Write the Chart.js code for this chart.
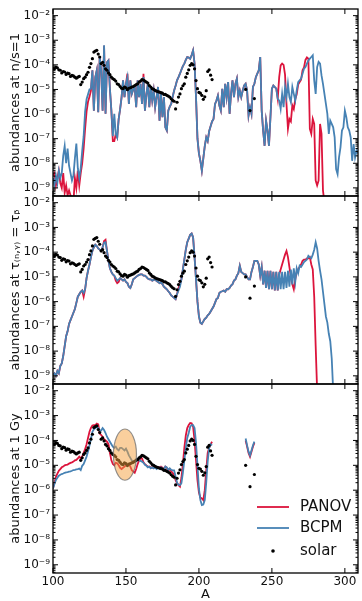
<!DOCTYPE html>
<html lang="en">
<head>
  <meta charset="UTF-8" />
  <title>r-process abundances</title>
  <script src="https://cdn.jsdelivr.net/npm/chart.js"></script>
  <style>
    body { margin: 0; background: #fff; }
    #wrap { position: relative; width: 362px; height: 601px; overflow: hidden; }
    #wrap canvas { position: absolute; left: 0; }
  </style>
</head>
<body>
<div id="wrap">
  <canvas id="ns1Chart" width="362" height="200" style="top:0px"></canvas>
  <canvas id="tauChart" width="362" height="202" style="top:187px"></canvas>
  <canvas id="gyChart" width="362" height="227" style="top:374px"></canvas>
</div>

<script>
  // ticks
  const yTickValues = [1e-9, 1e-8, 1e-7, 1e-6, 1e-5, 1e-4, 1e-3, 1e-2];
  const yTickLabels = ['10⁻⁹', '10⁻⁸', '10⁻⁷', '10⁻⁶', '10⁻⁵', '10⁻⁴', '10⁻³', '10⁻²'];
  const xTickValues = [100, 150, 200, 250, 300];
  const seriesNames = ['PANOV', 'BCPM', 'solar'];
  const panelTitles = ['abundances at n/s=1', 'abundances at τ₍ₙ,ᵧ₎ = τᵦ', 'abundances at 1 Gy'];

  // log10 abundances, one value per mass number, first entry is A = 100
  // panel 1: n/s = 1
  const ns1Panov = [
    -8.5,-8.4,-8.9,-8.6,-8.3,-8.8,-9.0,-8.4,-9.2,-8.9,
    -9.3,-9.1,-9.3,-9.5,-9.6,-8.6,-9.0,-8.3,-8.9,-8.4,
    -8.0,-7.4,-6.6,-5.9,-5.5,-5.3,-5.05,-4.22,-5.86,-4.5,
    -4.22,-5.93,-3.68,-4.22,-5.86,-3.22,-5.99,-3.9,-3.82,-4.97,
    -5.86,-7.1,-7.1,-6.81,-6.95,-6.2,-5.8,-5.31,-4.63,-5.31,
    -4.77,-4.36,-5.59,-4.63,-5.18,-5.0,-4.9,-5.72,-4.63,-5.31,
    -4.77,-5.59,-4.36,-5.86,-5.2,-4.77,-5.72,-4.9,-5.45,-5.04,
    -5.72,-5.3,-4.9,-6.27,-5.18,-6.13,-5.31,-6.54,-6.67,-5.86,
    -5.7,-5.59,-5.3,-5.04,-4.85,-4.63,-4.5,-4.36,-4.2,-4.05,
    -3.95,-3.8,-3.68,-3.7,-3.75,-3.6,-3.41,-3.95,-5.31,-7.0,
    -7.6,-7.9,-8.3,-7.8,-7.3,-6.95,-7.1,-6.7,-6.5,-6.3,
    -6.2,-5.6,-5.45,-5.25,-5.65,-5.85,-4.97,-5.72,-4.77,-5.31,
    -4.7,-5.99,-5.18,-4.63,-5.31,-4.77,-4.56,-5.31,-5.04,-5.31,
    -5.04,-4.84,-4.77,-5.04,-6.06,-5.72,-5.99,-4.9,-4.77,-4.5,
    -4.36,-4.22,-3.68,-5.86,-6.67,-7.29,-6.27,-6.67,-7.29,-6.13,
    -4.97,-4.84,-4.9,-4.97,-5.38,-4.5,-4.02,-3.95,-4.0,-4.4,
    -5.6,-6.6,-6.2,-6.3,-5.65,-5.8,-5.4,-5.2,-4.8,-4.7,
    -4.6,-4.22,-4.1,-3.8,-3.7,-3.75,-6.6,-6.8,-6.2,-6.4,
    -8.7,-8.9,-8.7,-6.4,-6.8,-9.1,-9.6
  ];
  const ns1Bcpm = [
    -8.6,-8.9,-8.5,-8.8,-8.3,-8.6,-8.4,-7.7,-7.3,-8.0,
    -7.4,-8.1,-8.4,-8.7,-8.5,-7.8,-7.2,-8.2,-8.6,-8.2,
    -7.5,-6.9,-5.9,-5.4,-5.2,-5.0,-4.97,-4.22,-5.86,-4.5,
    -4.22,-5.93,-3.68,-4.22,-5.86,-3.2,-5.99,-3.9,-3.82,-4.97,
    -5.86,-6.9,-5.99,-6.81,-6.95,-6.2,-5.8,-5.31,-4.63,-5.31,
    -4.77,-4.5,-5.59,-4.63,-5.18,-5.0,-4.9,-5.72,-4.63,-5.31,
    -4.77,-5.59,-4.5,-5.86,-5.2,-4.77,-5.72,-4.9,-5.45,-5.04,
    -5.72,-5.3,-4.9,-6.27,-5.18,-6.13,-5.31,-6.54,-6.67,-5.86,
    -5.7,-5.59,-5.3,-5.04,-4.85,-4.63,-4.5,-4.36,-4.2,-4.05,
    -3.95,-3.8,-3.68,-3.7,-3.75,-3.6,-3.41,-3.95,-5.31,-7.0,
    -7.6,-7.9,-8.3,-7.8,-7.3,-6.95,-7.1,-6.7,-6.5,-6.3,
    -6.2,-5.6,-5.45,-5.25,-5.65,-5.85,-4.97,-5.72,-4.77,-5.31,
    -4.7,-5.99,-5.18,-4.63,-5.31,-4.77,-4.56,-5.31,-5.04,-5.31,
    -5.04,-4.84,-4.77,-5.04,-6.06,-5.72,-5.99,-4.9,-4.77,-4.5,
    -4.36,-4.22,-3.68,-5.86,-6.67,-7.29,-6.27,-6.67,-7.29,-6.13,
    -4.97,-4.84,-4.9,-4.97,-5.38,-5.45,-5.79,-5.18,-5.72,-4.9,
    -5.31,-4.77,-5.31,-5.52,-4.9,-5.18,-5.45,-5.04,-4.7,-4.63,
    -4.56,-4.36,-4.16,-4.09,-3.95,-3.82,-3.75,-3.68,-3.61,-4.63,
    -5.18,-4.09,-3.88,-3.95,-4.43,-4.77,-5.18,-5.59,-5.99,-6.81,
    -6.27,-6.4,-6.54,-6.95,-8.24,-8.44,-7.76,-7.35,-6.67,-6.54,
    -5.86,-6.13,-6.54,-6.67,-6.95,-7.9,-7.22,-7.76,-7.49,-7.6
  ];

  // panel 2: tau(n,gamma) = tau(beta)
  const tauPanov = [
    -8.97,-8.9,-9.0,-8.8,-8.9,-8.6,-8.5,-8.2,-7.8,-7.4,
    -7.2,-6.9,-6.75,-6.6,-6.45,-6.3,-6.05,-5.8,-5.7,-5.6,
    -5.55,-5.8,-5.5,-5.05,-4.75,-4.5,-4.2,-3.95,-3.8,-3.7,
    -3.75,-3.85,-3.9,-3.95,-3.8,-3.55,-3.5,-3.95,-4.35,-4.65,
    -4.8,-4.9,-4.95,-5.15,-5.25,-5.2,-5.05,-5.1,-5.15,-5.1,
    -5.2,-5.25,-5.4,-5.45,-5.3,-5.1,-5.05,-5.0,-4.95,-4.92,
    -4.9,-4.9,-4.95,-4.95,-5.0,-5.07,-5.1,-5.1,-5.15,-5.12,
    -5.1,-5.17,-5.2,-5.25,-5.22,-5.3,-5.4,-5.45,-5.5,-5.58,
    -5.65,-5.75,-5.8,-5.85,-5.9,-5.7,-5.45,-5.3,-5.1,-4.7,
    -4.3,-3.9,-3.6,-3.45,-3.3,-3.25,-3.4,-4.2,-5.1,-6.0,
    -6.6,-6.85,-6.9,-6.8,-6.7,-6.65,-6.55,-6.5,-6.4,-6.3,
    -6.2,-6.05,-5.9,-5.85,-5.65,-5.6,-5.58,-5.55,-5.6,-5.5,
    -5.5,-5.45,-5.35,-5.3,-5.15,-5.1,-4.95,-4.85,-4.55,-4.8,
    -4.85,-4.9,-4.9,-5.0,-5.1,-5.1,-4.8,-4.6,-4.35,-4.35,
    -4.35,-4.5,-4.95,-4.6,-5.3,-4.75,-5.45,-4.75,-5.5,-4.75,
    -5.5,-4.8,-5.55,-4.8,-5.55,-4.9,-4.7,-4.5,-4.3,-4.1,
    -3.95,-4.2,-4.6,-5.0,-5.3,-5.5,-5.1,-4.8,-4.7,-4.6,
    -4.5,-4.35,-4.3,-4.3,-4.25,-4.25,-4.2,-4.5,-4.7,-5.8,
    -7.8,-9.6
  ];
  const tauBcpm = [
    -8.97,-8.9,-9.0,-8.8,-8.9,-8.6,-8.5,-8.2,-7.8,-7.4,
    -7.2,-6.9,-6.75,-6.6,-6.45,-6.3,-6.05,-5.8,-5.7,-5.6,
    -5.55,-5.65,-5.5,-5.05,-4.75,-4.5,-4.2,-3.95,-3.8,-3.7,
    -3.75,-3.85,-3.9,-3.95,-3.8,-3.62,-3.6,-3.95,-4.35,-4.65,
    -4.8,-4.9,-4.95,-5.05,-5.15,-5.1,-5.05,-5.1,-5.15,-5.1,
    -5.2,-5.25,-5.4,-5.45,-5.3,-5.1,-5.05,-5.0,-4.95,-4.92,
    -4.9,-4.9,-4.95,-4.95,-5.0,-5.07,-5.1,-5.1,-5.15,-5.12,
    -5.1,-5.17,-5.2,-5.25,-5.22,-5.3,-5.4,-5.45,-5.5,-5.58,
    -5.65,-5.75,-5.8,-5.85,-5.9,-5.7,-5.55,-5.4,-5.1,-4.7,
    -4.3,-3.9,-3.6,-3.45,-3.3,-3.25,-3.4,-4.2,-5.1,-6.0,
    -6.6,-6.85,-6.9,-6.8,-6.7,-6.65,-6.55,-6.5,-6.4,-6.3,
    -6.2,-6.05,-5.9,-5.85,-5.65,-5.6,-5.58,-5.55,-5.6,-5.5,
    -5.5,-5.45,-5.35,-5.3,-5.15,-5.1,-4.95,-4.85,-4.55,-4.8,
    -4.85,-4.9,-4.9,-5.0,-5.1,-5.1,-4.8,-4.6,-4.35,-4.35,
    -4.35,-4.5,-4.95,-4.6,-5.3,-4.75,-5.45,-4.75,-5.5,-4.75,
    -5.5,-4.8,-5.55,-4.8,-5.55,-4.8,-5.5,-4.8,-5.5,-4.8,
    -5.45,-4.75,-5.4,-4.7,-5.3,-4.65,-5.2,-4.65,-4.85,-4.55,
    -4.6,-4.5,-4.4,-4.35,-4.3,-4.15,-4.2,-4.25,-4.1,-3.9,
    -3.6,-3.85,-4.35,-4.75,-5.1,-5.6,-6.1,-6.6,-6.85,-7.3,
    -7.6,-8.3,-9.6
  ];

  // panel 3: 1 Gy, A = 100..209 and A = 232..238
  const gyPanov = [
    -5.93,-5.7,-5.46,-5.33,-5.22,-5.15,-5.08,-5.05,-5.0,-4.98,
    -4.97,-4.93,-4.9,-4.88,-4.85,-4.8,-4.78,-4.72,-4.65,-4.72,
    -4.65,-4.5,-4.35,-4.15,-3.9,-3.65,-3.5,-3.4,-3.38,-3.38,
    -3.32,-3.35,-3.72,-3.78,-3.85,-3.95,-4.0,-4.05,-4.15,-4.5,
    -4.8,-4.95,-5.0,-4.9,-4.92,-5.0,-5.1,-5.15,-5.1,-5.05,
    -5.0,-4.97,-4.95,-5.05,-5.2,-5.25,-5.3,-5.15,-4.95,-4.8,
    -4.72,-4.72,-4.88,-4.95,-5.0,-5.05,-5.05,-5.1,-5.08,-5.1,
    -5.05,-5.12,-5.08,-5.1,-5.05,-5.1,-5.15,-5.05,-5.1,-5.2,
    -5.15,-5.25,-5.3,-5.4,-5.6,-5.72,-5.8,-5.86,-5.5,-4.95,
    -4.3,-3.8,-3.5,-3.38,-3.3,-3.31,-3.45,-4.0,-4.8,-5.6,
    -6.1,-6.3,-6.33,-6.4,-6.0,-5.2,-4.5,-4.3,-4.15,-4.05
  ];
  const gyBcpm = [
    -5.93,-5.75,-5.59,-5.5,-5.42,-5.38,-5.35,-5.33,-5.3,-5.28,
    -5.27,-5.25,-5.24,-5.22,-5.19,-5.18,-5.16,-5.15,-5.13,-5.19,
    -5.02,-4.95,-4.8,-4.65,-4.45,-4.2,-3.95,-3.65,-3.55,-3.5,
    -3.45,-3.5,-3.6,-3.6,-3.5,-3.58,-3.7,-3.85,-3.95,-4.05,
    -4.15,-4.25,-4.3,-4.25,-4.35,-4.4,-4.3,-4.3,-4.35,-4.4,
    -4.33,-4.45,-4.6,-4.7,-4.8,-4.85,-4.82,-4.75,-4.75,-4.8,
    -4.82,-4.85,-4.9,-4.98,-5.02,-5.08,-5.05,-5.12,-5.08,-5.12,
    -5.08,-5.15,-5.1,-5.13,-5.08,-5.12,-5.18,-5.05,-5.08,-5.18,
    -5.12,-5.18,-5.2,-5.2,-5.45,-5.7,-5.78,-5.8,-5.72,-5.3,
    -4.8,-4.3,-3.9,-3.7,-3.45,-3.38,-3.38,-3.5,-4.1,-5.0,
    -5.95,-6.4,-6.6,-6.58,-6.4,-5.7,-4.85,-4.3,-4.15,-4.2
  ];
  const gyPanovActinides = [-4.0, -4.25, -4.5, -4.65, -4.45, -4.25, -4.1];
  const gyBcpmActinides = [-3.92, -4.2, -4.45, -4.6, -4.4, -4.2, -4.05];

  // solar r-process abundances (log10)
  const solarA = [
    100,101,102,103,104,105,106,107,108,109,110,111,112,113,114,115,116,117,118,119,
    120,121,122,123,124,125,126,127,128,129,130,131,132,133,134,135,136,137,138,139,
    140,141,142,143,144,145,146,147,148,149,150,151,152,153,154,155,156,157,158,159,
    160,161,162,163,164,165,166,167,168,169,170,171,172,173,174,175,176,177,178,179,
    180,181,182,183,184,185,186,187,188,189,190,191,192,193,194,195,196,197,198,199,
    200,201,202,203,204,205,206,207,208,209,232,235,238
  ];
  const solarLog = [
    -4.15,-4.16,-4.09,-4.12,-4.2,-4.22,-4.33,-4.27,-4.29,-4.39,-4.34,-4.36,-4.47,-4.43,-4.45,-4.5,-4.54,-4.5,-4.47,-4.8,
    -4.7,-4.56,-4.5,-4.4,-4.3,-4.1,-3.95,-3.75,-3.48,-3.44,-3.41,-3.56,-3.68,-3.95,-3.9,-4.02,-4.16,-4.22,-4.33,-4.4,
    -4.5,-4.56,-4.6,-4.66,-4.77,-4.8,-4.88,-4.95,-4.97,-4.9,-4.93,-5.01,-4.95,-4.93,-4.9,-4.88,-4.84,-4.8,-4.77,-4.7,
    -4.66,-4.6,-4.62,-4.66,-4.7,-4.74,-4.84,-4.9,-4.97,-5.0,-5.04,-5.07,-5.09,-5.11,-5.13,-5.15,-5.2,-5.2,-5.24,-5.27,
    -5.31,-5.38,-5.44,-5.48,-5.79,-5.52,-5.31,-5.18,-4.97,-4.85,-4.77,-4.5,-4.35,-4.2,-4.02,-3.95,-4.0,-4.16,-4.64,-4.97,
    -5.12,-5.15,-5.24,-5.4,-5.3,-5.05,-4.27,-4.2,-4.42,-4.6,-5.0,-5.86,-5.37
  ];

  // highlighted region in the 1 Gy panel
  const highlight = { A: 149.3, halfA: 7.9, logCenter: -4.57, halfLog: 1.03 };

  const FONT = 'DejaVu Sans';
  const panovColor = '#dc143c';
  const bcpmColor = '#4682b4';

  function toPoints(firstA, logs) {
    return logs.map((v, i) => ({ x: firstA + i, y: v === null ? null : Math.pow(10, v) }));
  }

  function lineSet(label, data, color, order) {
    return { label, data, borderColor: color, backgroundColor: color, borderWidth: 1.8,
             pointRadius: 0, tension: 0, spanGaps: false, fill: false, order };
  }

  function solarSet() {
    return { label: seriesNames[2], data: solarA.map((a, i) => ({ x: a, y: Math.pow(10, solarLog[i]) })),
             showLine: false, pointRadius: 1.6, pointBorderWidth: 0, pointBackgroundColor: '#000',
             borderColor: '#000', backgroundColor: '#000', order: 0 };
  }

  // frame + inward ticks like the original figure
  const frameTicks = {
    id: 'frameTicks',
    afterDatasetsDraw(chart) {
      const { ctx, chartArea: a, scales: { x, y } } = chart;
      ctx.save();
      ctx.strokeStyle = '#000';
      ctx.lineWidth = 1;
      const seg = (x0, y0, x1, y1) => { ctx.beginPath(); ctx.moveTo(x0, y0); ctx.lineTo(x1, y1); ctx.stroke(); };
      for (let e = -10; e <= -1; e++) {
        for (let k = 1; k <= 9; k++) {
          const py = y.getPixelForValue(k * Math.pow(10, e));
          if (py < a.top || py > a.bottom) continue;
          const len = k === 1 ? 5 : 2.5;
          seg(a.left, py, a.left + len, py);
          seg(a.right, py, a.right - len, py);
        }
      }
      xTickValues.forEach(v => {
        const px = x.getPixelForValue(v);
        seg(px, a.bottom, px, a.bottom - 5);
        seg(px, a.top, px, a.top + 5);
      });
      ctx.lineWidth = 1.3;
      ctx.strokeRect(a.left, a.top, a.right - a.left, a.bottom - a.top);
      ctx.restore();
    }
  };

  const ellipsePlugin = {
    id: 'highlightEllipse',
    afterDatasetsDraw(chart) {
      const { ctx, scales: { x, y } } = chart;
      const cx = x.getPixelForValue(highlight.A);
      const rx = x.getPixelForValue(highlight.A + highlight.halfA) - cx;
      const cy = y.getPixelForValue(Math.pow(10, highlight.logCenter));
      const ry = cy - y.getPixelForValue(Math.pow(10, highlight.logCenter + highlight.halfLog));
      ctx.save();
      ctx.beginPath();
      ctx.ellipse(cx, cy, rx, ry, 0, 0, Math.PI * 2);
      ctx.fillStyle = 'rgba(245,160,60,0.5)';
      ctx.fill();
      ctx.strokeStyle = 'rgba(110,110,110,0.75)';
      ctx.lineWidth = 1.2;
      ctx.stroke();
      ctx.restore();
    }
  };

  const legendPlugin = {
    id: 'cornerLegend',
    afterDraw(chart) {
      const { ctx, chartArea: a } = chart;
      const rows = [[seriesNames[0], panovColor, 123], [seriesNames[1], bcpmColor, 144], [seriesNames[2], '#000', 167]];
      ctx.save();
      ctx.font = '15px "' + FONT + '"';
      ctx.textBaseline = 'middle';
      rows.forEach(([name, color, dy], i) => {
        const yy = a.top + dy;
        if (i < 2) {
          ctx.strokeStyle = color;
          ctx.lineWidth = 1.8;
          ctx.beginPath(); ctx.moveTo(a.left + 204, yy); ctx.lineTo(a.left + 236, yy); ctx.stroke();
        } else {
          ctx.fillStyle = color;
          ctx.beginPath(); ctx.arc(a.left + 220, yy, 1.8, 0, Math.PI * 2); ctx.fill();
        }
        ctx.fillStyle = '#111';
        ctx.fillText(name, a.left + 247, yy);
      });
      ctx.restore();
    }
  };

  function makeOptions(title, showX, pad) {
    return {
      responsive: false,
      animation: false,
      devicePixelRatio: 1,
      layout: { padding: pad },
      plugins: { legend: { display: false }, tooltip: { enabled: false } },
      scales: {
        x: {
          type: 'linear', min: 100, max: 309, display: showX,
          afterBuildTicks: s => { s.ticks = xTickValues.map(v => ({ value: v })); },
          afterFit: s => {
            s.height = showX ? 28 : 0;
            s.paddingLeft = 0; s.paddingRight = 0;
          },
          grid: { display: false, drawTicks: false },
          border: { display: false },
          ticks: { padding: 2, color: '#111', maxRotation: 0, font: { family: FONT, size: 12 } },
          title: { display: true, text: 'A', color: '#111', padding: 0, font: { family: FONT, size: 13, lineHeight: 1 } }
        },
        y: {
          type: 'logarithmic', min: Math.pow(10, -9.33), max: Math.pow(10, -1.73),
          afterBuildTicks: s => { s.ticks = yTickValues.map(v => ({ value: v })); },
          afterFit: s => { s.width = 53; s.paddingTop = 0; s.paddingBottom = 0; },
          grid: { display: false, drawTicks: false },
          border: { display: false },
          ticks: {
            padding: 3, color: '#111', autoSkip: false, font: { family: FONT, size: 12 },
            callback: v => {
              const i = yTickValues.findIndex(t => Math.abs(Math.log10(t) - Math.log10(v)) < 1e-6);
              return i < 0 ? '' : yTickLabels[i];
            }
          },
          title: { display: true, text: title, color: '#111', padding: { top: 8, bottom: 0 }, font: { family: FONT, size: 13 } }
        }
      }
    };
  }

  // 1. n/s = 1
  new Chart(document.getElementById('ns1Chart'), {
    type: 'line',
    data: { datasets: [
      solarSet(),
      lineSet(seriesNames[1], toPoints(100, ns1Bcpm), bcpmColor, 1),
      lineSet(seriesNames[0], toPoints(100, ns1Panov), panovColor, 2)
    ] },
    options: makeOptions(panelTitles[0], false, { top: 9, bottom: 4, left: 0, right: 1 }),
    plugins: [frameTicks]
  });

  // 2. tau(n,gamma) = tau(beta)
  new Chart(document.getElementById('tauChart'), {
    type: 'line',
    data: { datasets: [
      solarSet(),
      lineSet(seriesNames[1], toPoints(100, tauBcpm), bcpmColor, 1),
      lineSet(seriesNames[0], toPoints(100, tauPanov), panovColor, 2)
    ] },
    options: makeOptions(panelTitles[1], false, { top: 9, bottom: 5, left: 0, right: 1 }),
    plugins: [frameTicks]
  });

  // 3. 1 Gy
  const gap = [{ x: 220, y: null }];
  new Chart(document.getElementById('gyChart'), {
    type: 'line',
    data: { datasets: [
      solarSet(),
      lineSet(seriesNames[1], toPoints(100, gyBcpm).concat(gap, toPoints(232, gyBcpmActinides)), bcpmColor, 1),
      lineSet(seriesNames[0], toPoints(100, gyPanov).concat(gap, toPoints(232, gyPanovActinides)), panovColor, 2)
    ] },
    options: makeOptions(panelTitles[2], true, { top: 10, bottom: 0, left: 0, right: 1 }),
    plugins: [ellipsePlugin, frameTicks, legendPlugin]
  });
</script>
</body>
</html>
